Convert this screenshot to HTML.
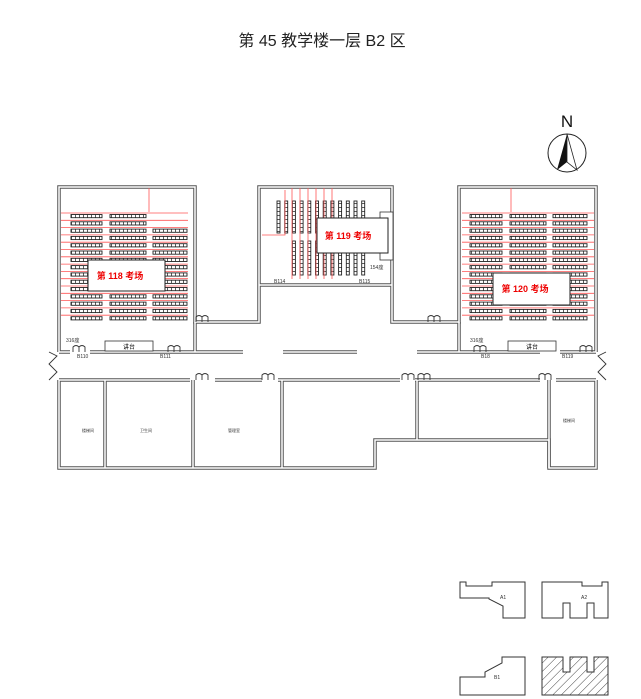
<!DOCTYPE html>
<html><head><meta charset="utf-8"><style>
html,body{margin:0;padding:0;background:#fff;}
svg{display:block;font-family:"Liberation Sans","Noto Sans CJK SC",sans-serif;}
</style></head><body>
<svg id="s" width="641" height="699" viewBox="0 0 641 699" xmlns="http://www.w3.org/2000/svg">
<defs>
<pattern id="h" width="6" height="6" patternUnits="userSpaceOnUse" patternTransform="rotate(45)"><line x1="0" y1="0" x2="0" y2="6" stroke="#444" stroke-width="1"/></pattern>
<pattern id="dk" width="4" height="4" patternUnits="userSpaceOnUse"><rect width="4" height="4" fill="#fff"/><line x1="3.5" y1="0" x2="3.5" y2="4" stroke="#333" stroke-width="0.8"/></pattern>
<pattern id="dv" width="4" height="4" patternUnits="userSpaceOnUse"><rect width="4" height="4" fill="#fff"/><line x1="0" y1="3.5" x2="4" y2="3.5" stroke="#333" stroke-width="0.8"/></pattern>
</defs>
<text x="322" y="46" font-size="16" text-anchor="middle" fill="#222">第 45 教学楼一层 B2 区</text>
<text x="567" y="127" font-size="17" text-anchor="middle" fill="#111">N</text>
<circle cx="567" cy="153" r="19" fill="none" stroke="#222" stroke-width="1"/>
<polygon points="567,134 557,170 567,162" fill="#111"/>
<polygon points="567,134 577,170 567,162" fill="none" stroke="#222" stroke-width="0.8"/>
<g id="walls" fill="none" stroke="#555" stroke-width="3.5"></g>
<g id="inner" fill="none" stroke="#fff" stroke-width="1.5"></g>
<g id="desks"></g>
<g font-size="5" fill="#333">
<text x="66" y="342">316座</text><text x="470" y="342">316座</text>
<text x="370" y="269">154座</text>
<text x="77" y="358">B110</text><text x="160" y="358">B111</text>
<text x="274" y="283">B114</text><text x="359" y="283">B115</text>
<text x="481" y="358">B18</text><text x="562" y="358">B119</text>
<text x="82" y="432" font-size="4">楼梯间</text><text x="140" y="432" font-size="4">卫生间</text>
<text x="228" y="432" font-size="4">管理室</text><text x="563" y="422" font-size="4">楼梯间</text>
</g>
<rect x="105" y="341" width="48" height="10" fill="#fff" stroke="#333" stroke-width="0.8"/>
<text x="129" y="349" font-size="6" text-anchor="middle">讲台</text>
<rect x="508" y="341" width="48" height="10" fill="#fff" stroke="#333" stroke-width="0.8"/>
<text x="532" y="349" font-size="6" text-anchor="middle">讲台</text>
<rect x="380" y="212" width="13" height="48" fill="#fff" stroke="#333" stroke-width="0.8"/>
<rect x="88" y="260" width="77" height="31" fill="#fff" stroke="#222" stroke-width="1"/>
<text x="120" y="279" font-size="9" font-weight="bold" fill="#e00" text-anchor="middle">第 118 考场</text>
<rect x="317" y="218" width="71" height="35" fill="#fff" stroke="#222" stroke-width="1"/>
<text x="348" y="239" font-size="9" font-weight="bold" fill="#e00" text-anchor="middle">第 119 考场</text>
<rect x="493" y="273" width="77" height="32" fill="#fff" stroke="#222" stroke-width="1"/>
<text x="525" y="292" font-size="9" font-weight="bold" fill="#e00" text-anchor="middle">第 120 考场</text>
<g fill="none" stroke="#333" stroke-width="1">
<path d="M460,582 h6 v4 h26 v-4 h33 v36 h-22 v-12 l-14,-7 v-1 h-29 z"/>
<text x="500" y="599" font-size="5" stroke="none" fill="#333">A1</text>
<path d="M542,582 h40 v4 h20 v-4 h6 v36 h-14 v-15 h-7 v15 h-17 v-15 h-7 v15 h-21 z"/>
<text x="581" y="599" font-size="5" stroke="none" fill="#333">A2</text>
<path d="M502,657 h23 v38 h-65 v-18 h25 v-5 l17,-9 z"/>
<text x="494" y="679" font-size="5" stroke="none" fill="#333">B1</text>
<path d="M542,657 h21 v15 h7 v-15 h17 v15 h7 v-15 h14 v38 h-66 z" fill="url(#h)"/>
</g>
</svg>
<script>
const NS="http://www.w3.org/2000/svg";
function el(p,t,a){const e=document.createElementNS(NS,t);for(const k in a)e.setAttribute(k,a[k]);document.getElementById(p).appendChild(e);return e;}
const W=[
"M59,352 V187 H195 V322 H259 V187 H392 V322 H459 V187 H596 V352",
"M195,322 V352","M459,322 V352",
"M59,352 H70","M90,352 H195","M195,352 H243","M283,352 H357","M417,352 H459","M459,352 H540","M560,352 H596",
"M259,285 H392",
"M59,380 V468 H375 V440 H549 V468 H596 V380",
"M59,380 H190","M215,380 H262","M278,380 H400","M415,380 H540","M556,380 H596",
"M105,380 V468","M193,380 V468","M282,380 V468","M417,380 V440","M549,380 V468"
];
W.forEach(d=>{el("walls","path",{d});el("inner","path",{d});});
const g="desks";
function rows(x0,x1,cols,y0,n,dy){
 for(let i=0;i<n;i++){const y=y0+i*dy;
  el(g,"line",{x1:x0,y1:y-2,x2:x1,y2:y-2,stroke:"#f55","stroke-width":0.8});
  cols.forEach((c,j)=>{ if(i<2&&j==2&&x0<300)return;
   el(g,"rect",{x:c[0],y:y-0.5,width:c[1]-c[0],height:3.2,fill:"url(#dk)",stroke:"#222","stroke-width":0.9});});}
}
rows(61,188,[[71,102],[110,146],[153,187]],215,15,7.3);
el(g,"path",{d:"M149,188 V212",stroke:"#f55","stroke-width":0.8,fill:"none"});
rows(462,594,[[470,502],[510,546],[553,587]],215,15,7.3);
el(g,"path",{d:"M511,188 V212",stroke:"#f55","stroke-width":0.8,fill:"none"});
for(let i=0;i<12;i++){const x=277+i*7.7;
 if(i>=2) el(g,"rect",{x:x,y:201,width:3,height:32,fill:"url(#dv)",stroke:"#222","stroke-width":0.9});
 else el(g,"rect",{x:x,y:201,width:3,height:32,fill:"url(#dv)",stroke:"#222","stroke-width":0.9});
 if(i>=2) el(g,"rect",{x:x,y:241,width:3,height:34,fill:"url(#dv)",stroke:"#222","stroke-width":0.9});}
for(let i=0;i<6;i++){const x=292+i*8;el(g,"line",{x1:x,y1:188,x2:x,y2:279,stroke:"#f55","stroke-width":0.8});}
el(g,"path",{d:"M262,235 H285 V190",stroke:"#f55","stroke-width":0.8,fill:"none"});
function door(x,y){el(g,"path",{d:`M${x},${y} v-5 q3,-3 6,0 v5 M${x+6},${y} v-5 q3,-3 6,0 v5`,stroke:"#333","stroke-width":0.9,fill:"none"});}
[196,262,402,418,539].forEach(x=>door(x,380));
[196,428].forEach(x=>door(x,322));
[73,168,474,580].forEach(x=>door(x,352));
el(g,"path",{d:"M49,352 l8,4 l-8,8 l8,8 l-8,8",stroke:"#333","stroke-width":0.9,fill:"none"});
el(g,"path",{d:"M606,352 l-8,4 l8,8 l-8,8 l8,8",stroke:"#333","stroke-width":0.9,fill:"none"});
</script>
</body></html>
